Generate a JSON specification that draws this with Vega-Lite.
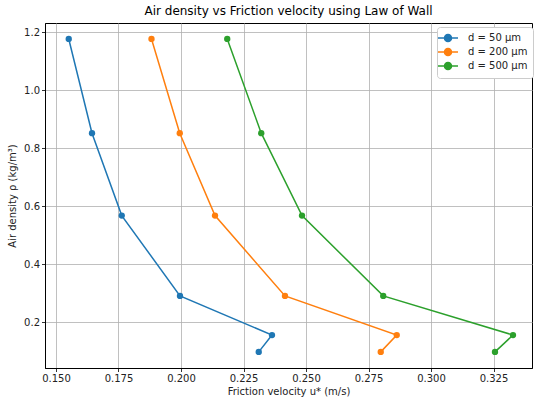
{
  "$schema": "https://vega.github.io/schema/vega-lite/v6.json",
  "width": 487,
  "height": 345,
  "autosize": {"type": "none"},
  "padding": {"left": 45, "top": 23, "right": 2, "bottom": 33},
  "background": "white",
  "title": {"text": "Air density vs Friction velocity using Law of Wall", "font": "DejaVu Sans", "fontSize": 12, "fontWeight": "normal", "color": "#000", "offset": 5},
  "config": {
    "view": {"stroke": "#000", "strokeWidth": 1},
    "axis": {
      "labelFont": "DejaVu Sans", "labelFontSize": 10, "labelColor": "#222",
      "titleFont": "DejaVu Sans", "titleFontSize": 10, "titleFontWeight": "normal", "titleColor": "#222",
      "gridColor": "#b0b0b0", "gridWidth": 0.8, "gridOpacity": 1,
      "tickColor": "#000", "tickSize": 3.5, "tickWidth": 0.8, "labelPadding": 2,
      "domainColor": "#000", "domainWidth": 1
    }
  },
  "data": {"values": [
    {"d": "d = 50 µm", "u": 0.1551, "rho": 1.177},
    {"d": "d = 50 µm", "u": 0.1644, "rho": 0.852},
    {"d": "d = 50 µm", "u": 0.1763, "rho": 0.568},
    {"d": "d = 50 µm", "u": 0.1996, "rho": 0.291},
    {"d": "d = 50 µm", "u": 0.2364, "rho": 0.156},
    {"d": "d = 50 µm", "u": 0.2311, "rho": 0.098},
    {"d": "d = 200 µm", "u": 0.1882, "rho": 1.177},
    {"d": "d = 200 µm", "u": 0.1995, "rho": 0.852},
    {"d": "d = 200 µm", "u": 0.2136, "rho": 0.568},
    {"d": "d = 200 µm", "u": 0.2416, "rho": 0.291},
    {"d": "d = 200 µm", "u": 0.2863, "rho": 0.156},
    {"d": "d = 200 µm", "u": 0.2799, "rho": 0.098},
    {"d": "d = 500 µm", "u": 0.2185, "rho": 1.177},
    {"d": "d = 500 µm", "u": 0.2321, "rho": 0.852},
    {"d": "d = 500 µm", "u": 0.2484, "rho": 0.568},
    {"d": "d = 500 µm", "u": 0.2809, "rho": 0.291},
    {"d": "d = 500 µm", "u": 0.3328, "rho": 0.156},
    {"d": "d = 500 µm", "u": 0.3256, "rho": 0.098}
  ]},
  "mark": {"type": "line", "strokeWidth": 1.5, "point": {"size": 40, "filled": true, "opacity": 1}},
  "encoding": {
    "x": {"field": "u", "type": "quantitative", "scale": {"domain": [0.1456, 0.3404], "nice": false, "zero": false},
      "axis": {"title": "Friction velocity u* (m/s)", "values": [0.15, 0.175, 0.2, 0.225, 0.25, 0.275, 0.3, 0.325], "format": ".3f", "titlePadding": 3}},
    "y": {"field": "rho", "type": "quantitative", "scale": {"domain": [0.0424, 1.232], "nice": false, "zero": false},
      "axis": {"title": "Air density ρ (kg/m³)", "values": [0.2, 0.4, 0.6, 0.8, 1.0, 1.2], "format": ".1f", "titlePadding": 6}},
    "order": {"field": "rho", "sort": "descending"},
    "color": {"field": "d", "type": "nominal",
      "scale": {"domain": ["d = 50 µm", "d = 200 µm", "d = 500 µm"], "range": ["#1f77b4", "#ff7f0e", "#2ca02c"]},
      "legend": {
        "title": null, "orient": "none", "legendX": 392, "legendY": 4,
        "labelFont": "DejaVu Sans", "labelFontSize": 10, "labelColor": "#222",
        "symbolType": "M-2,0H2M-0.7,0A0.7,0.7 0 1,1 0.7,0A0.7,0.7 0 1,1 -0.7,0",
        "symbolSize": 100, "symbolStrokeWidth": 1.5, "labelOffset": 14,
        "fillColor": "white", "strokeColor": "#cccccc", "cornerRadius": 3, "padding": 5, "rowPadding": 0,
        "encode": {"symbols": {"update": {"fill": {"scale": "color", "field": "value"}, "fillOpacity": {"value": 1}, "strokeOpacity": {"value": 1}}}}
      }}
  }
}
